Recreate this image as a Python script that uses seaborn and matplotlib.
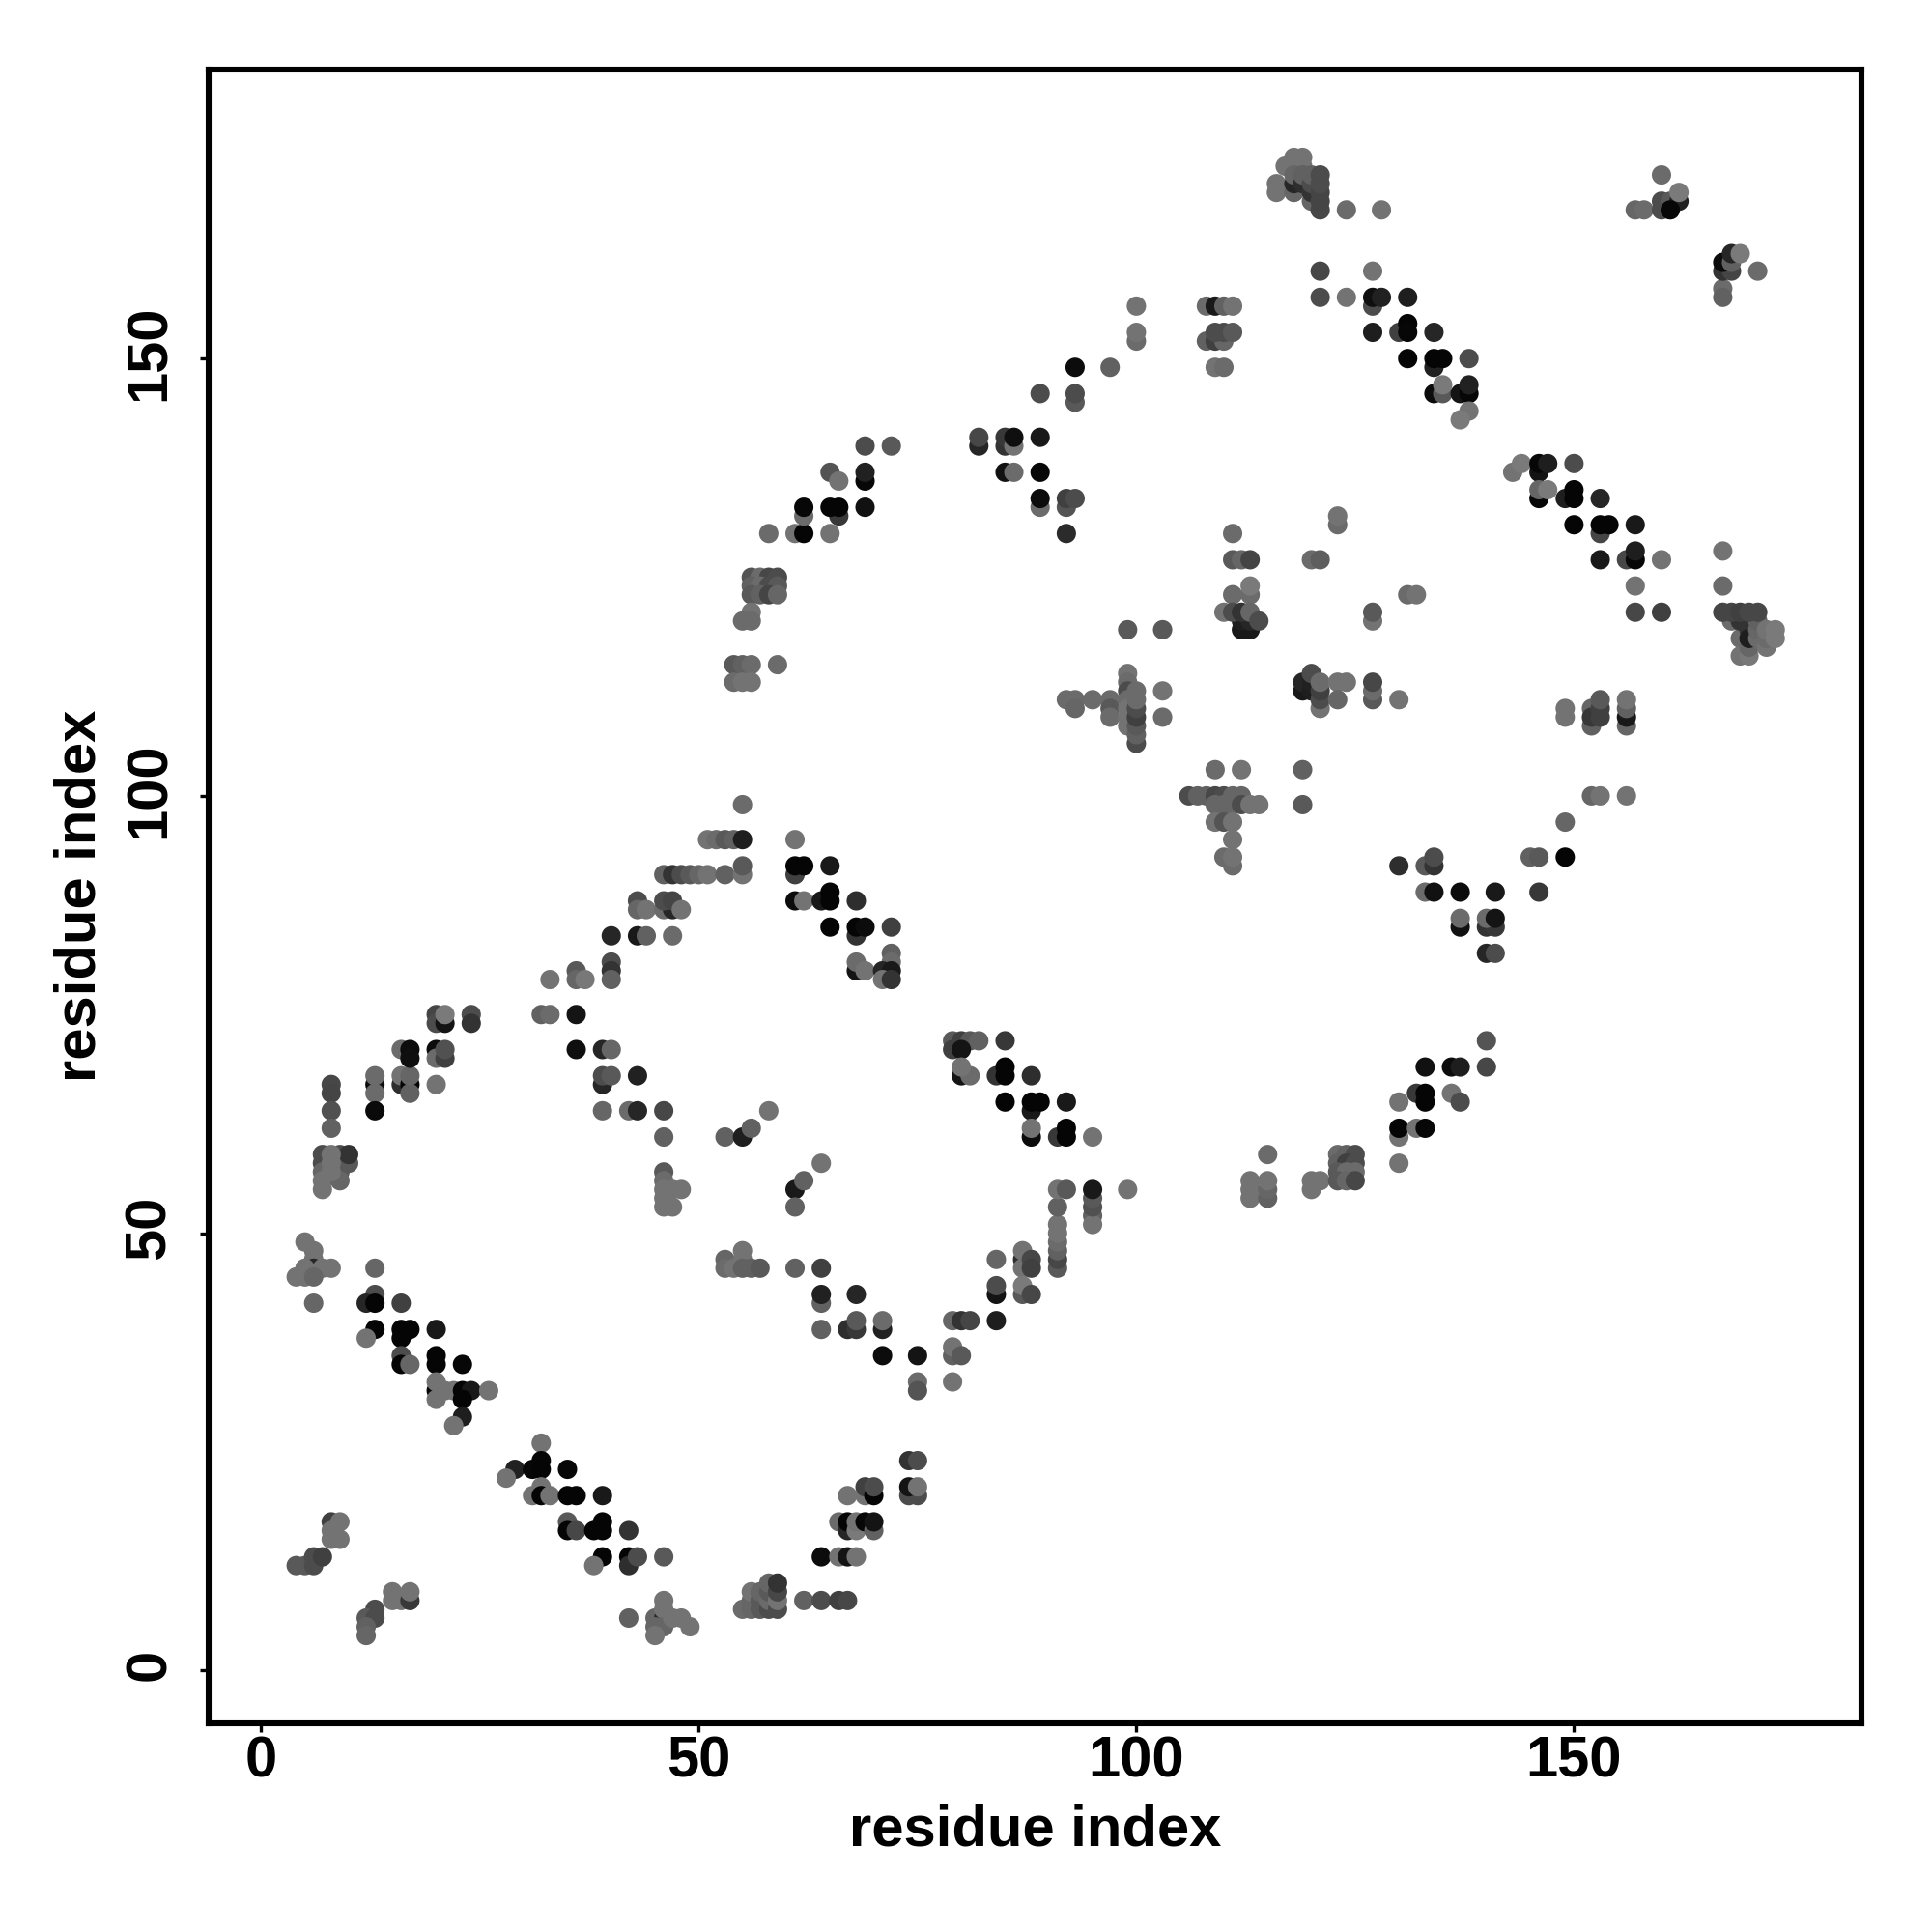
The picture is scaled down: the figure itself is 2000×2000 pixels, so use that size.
import matplotlib
matplotlib.use("Agg")
import matplotlib.pyplot as plt
import matplotlib.transforms as mtransforms
import numpy as np
import pandas as pd
import seaborn as sns

# (residue i, residue j, grey level)
band_low_left = [
 (8,17,.25),(9,17,.45),(8,16,.45),(8,15,.45),(9,15,.45),(4,12,.35),(5,12,.35),(6,12,.3),(6,13,.3),(7,13,.25),
 (13,7,.3),(12,6,.35),(13,6,.3),(12,5,.38),(12,4,.4),(15,9,.45),(15,8,.45),(16,8,.45),(17,8,.22),(17,9,.45),
 (42,6,.38),(45,6,.4),(46,6,.15),(46,8,.45),(46,7,.45),(45,5,.4),(46,5,.4),(45,4,.45),(47,6,.45),(48,6,.45),(49,5,.45),
]
band_helix_a = [
 (13,46,.4),(13,43,.3),(12,42,.15),(13,42,.02),(16,42,.25),(13,39,.02),(12,38,.45),(16,39,.02),(17,39,.02),(16,38,.02),(20,39,.1),
 (16,36,.3),(16,35,.02),(17,35,.4),(20,36,.02),(20,35,.02),(23,35,.03),(20,32,.02),(20,33,.45),(20,31,.45),(21,32,.45),(22,32,.45),
 (23,32,.02),(24,32,.1),(26,32,.45),(23,31,.02),(23,29,.12),(22,28,.45),
]
band_helix_b = [
 (32,26,.45),(32,24,.03),(29,23,.13),(31,23,.03),(32,23,.02),(35,23,.03),(28,22,.45),(32,21,.45),(31,20,.45),(32,20,.02),(33,20,.45),
 (35,20,.02),(36,20,.02),(39,20,.1),(35,17,.35),(35,16,.02),(36,16,.28),(38,16,.02),(39,17,.02),(39,16,.02),(42,16,.2),
 (39,13,.02),(38,12,.45),(42,13,.02),(42,12,.18),(43,13,.3),(46,13,.35),
]
band_start = [
 (5,49,.45),(6,48,.45),(6,47,.45),(6,46,.15),(5,46,.45),(7,46,.45),(8,46,.45),(4,45,.45),(5,45,.45),(6,45,.4),(6,42,.4),
 (8,67,.28),(8,66,.27),(8,64,.32),(8,62,.38),(7,59,.3),(7,58,.3),(7,57,.4),(7,56,.45),(7,55,.45),(9,59,.3),(9,58,.3),(9,57,.35),
 (9,56,.4),(10,58,.35),(10,59,.2),(8,59,.45),(8,58,.45),(8,57,.45),
 (13,67,.05),(13,66,.42),(13,68,.42),(13,64,.04),(16,67,.18),(16,68,.45),(17,67,.02),(17,66,.38),(17,68,.4),(20,67,.45),
 (16,71,.42),(17,71,.05),(17,70,.06),(20,71,.05),(20,70,.42),(21,70,.25),(21,71,.32),
 (20,75,.27),(20,74,.3),(21,74,.08),(21,75,.48),(24,75,.3),(24,74,.2),
]
band_upper_a = [
 (32,75,.38),(33,75,.42),(36,75,.08),(36,71,.06),(39,71,.15),(40,71,.4),(39,67,.15),(39,68,.3),(40,68,.35),(43,68,.13),
 (39,64,.4),(42,64,.42),(43,64,.15),(46,64,.28),(46,61,.38),(33,79,.45),(36,80,.35),(36,79,.4),(37,79,.47),(40,81,.3),(40,80,.2),(40,79,.38),
 (40,84,.15),(43,84,.1),(44,84,.38),(47,84,.42),(43,88,.3),(43,87,.4),(44,87,.45),(46,87,.42),(47,87,.15),(46,88,.3),(47,88,.27),(48,87,.45),
 (46,91,.38),(47,91,.2),(48,91,.3),(49,91,.35),(50,91,.4),(51,91,.45),(53,91,.38),(55,91,.45),(55,92,.35),
 (51,95,.45),(52,95,.42),(53,95,.35),(54,95,.38),(55,95,.12),(55,99,.42),(61,95,.45),
 (61,91,.25),(61,92,.02),(62,92,.02),(65,92,.1),(61,88,.05),(62,88,.45),(64,88,.1),(65,89,.02),(65,88,.02),(68,88,.18),
 (68,84,.2),(65,85,.02),(68,85,.02),(69,85,.05),(72,85,.25),(72,82,.38),(72,81,.42),(68,80,.08),(68,81,.42),(69,80,.45),(71,80,.15),(72,80,.1),(71,79,.45),(72,79,.2),
]
band_center = [
 (53,61,.38),(55,61,.12),(56,62,.38),(58,64,.45),(61,55,.1),(62,56,.38),(64,58,.45),(61,53,.38),
 (46,57,.35),(46,56,.42),(46,55,.45),(47,55,.45),(48,55,.45),(46,54,.45),(46,53,.45),(47,53,.45),
 (53,47,.4),(53,46,.42),(54,46,.45),(55,48,.45),(55,47,.45),(55,46,.38),(56,46,.38),(57,46,.35),(61,46,.38),(64,46,.25),
 (64,42,.38),(64,43,.13),(68,43,.15),(64,39,.38),(67,39,.18),(68,39,.22),(68,40,.35),(71,39,.13),(71,40,.42),
 (71,36,.05),(75,36,.08),(75,33,.42),(75,32,.33),(79,36,.38),(79,37,.45),(80,36,.35),(79,33,.45),
 (79,40,.4),(80,40,.2),(81,40,.27),(84,40,.12),(84,47,.4),(84,43,.08),(84,44,.3),
 (87,47,.18),(87,48,.45),(87,46,.45),(88,47,.28),(88,46,.25),(87,43,.35),(87,44,.48),(88,43,.28),
 (91,46,.35),(91,47,.28),(91,48,.38),(91,49,.42),(91,50,.45),(91,51,.45),(91,53,.38),(91,55,.45),(92,55,.35),(95,52,.38),(95,51,.45),(95,53,.32),(95,54,.35),(95,55,.1),(99,55,.45),
]
band_lower_mid = [
 (55,7,.42),(56,7,.4),(56,8,.4),(56,9,.45),(57,7,.35),(57,8,.35),(57,9,.4),(58,7,.3),(58,8,.42),(58,9,.35),(58,10,.4),(59,7,.3),(59,8,.45),(59,9,.28),(59,10,.2),
 (62,8,.38),(64,8,.3),(66,8,.25),(67,8,.28),(64,13,.05),(66,13,.45),(67,13,.08),(68,13,.45),(66,17,.42),(67,16,.15),(67,17,.02),(68,16,.48),(68,17,.45),
 (69,17,.03),(70,16,.38),(70,17,.08),(67,20,.45),(69,20,.45),(69,21,.25),(70,20,.02),(70,21,.3),(74,20,.3),(75,20,.3),(74,21,.08),(75,21,.45),(74,24,.2),(75,24,.3),
]
band_mid_a = [
 (79,72,.35),(80,72,.25),(81,72,.35),(82,72,.38),(85,72,.22),(79,71,.25),(80,71,.08),(80,68,.08),(81,68,.42),(80,69,.45),
 (84,68,.2),(85,68,.02),(85,69,.02),(88,68,.18),(85,65,.02),(88,64,.1),(88,65,.02),(89,65,.02),(92,65,.1),
 (88,61,.05),(88,62,.45),(91,61,.22),(92,62,.02),(92,61,.02),(95,61,.45),
 (113,56,.45),(113,55,.45),(113,54,.45),(115,59,.42),(115,54,.38),(115,55,.4),(115,56,.45),(120,55,.45),(120,56,.45),(121,56,.45),
 (123,59,.42),(124,59,.38),(125,59,.3),(123,58,.38),(124,58,.25),(125,58,.3),(123,57,.35),(124,57,.42),(125,57,.42),(123,56,.35),(124,56,.4),(125,56,.28),
 (130,58,.45),(130,61,.45),(130,62,.02),(132,62,.45),(133,62,.03),(130,65,.45),(132,66,.22),(133,65,.02),(133,66,.02),(136,66,.45),(137,65,.3),
 (133,69,.07),(136,69,.05),(137,69,.12),(140,69,.28),(140,72,.33),
]
band_mid_b = [
 (106,100,.3),(107,100,.38),(108,100,.38),(109,100,.28),(110,100,.3),(111,100,.4),(112,100,.4),(109,99,.4),(110,99,.4),(111,99,.4),(112,99,.3),(113,99,.45),(114,99,.45),
 (109,97,.45),(110,97,.33),(111,97,.45),(111,95,.45),(110,93,.42),(111,92,.42),(111,93,.45),(109,103,.42),(112,103,.45),(119,103,.38),(119,99,.35),
 (130,92,.18),(133,92,.35),(134,92,.2),(134,93,.3),(133,89,.42),(134,89,.07),(137,89,.05),(141,89,.1),(146,89,.22),
 (145,93,.38),(146,93,.35),(149,93,.02),(149,97,.4),(137,85,.07),(137,86,.42),(140,85,.2),(141,85,.22),(140,86,.42),(141,86,.08),(140,82,.15),(141,82,.3),
 (152,100,.4),(153,100,.45),(156,100,.45),
]
band_upper_b = [
 (58,130,.42),(61,130,.45),(62,130,.02),(65,130,.45),(62,132,.42),(62,133,.03),(66,132,.22),(65,133,.02),(66,133,.02),(69,133,.07),
 (65,137,.33),(66,136,.45),(69,136,.03),(69,137,.13),(69,140,.3),(72,140,.35),
 (56,125,.33),(57,125,.42),(58,125,.28),(59,125,.3),(56,124,.38),(57,124,.42),(58,124,.3),(59,124,.35),(56,123,.35),(57,123,.38),(58,123,.27),(59,123,.4),
 (56,121,.45),(55,120,.42),(56,120,.42),(54,115,.35),(55,115,.38),(56,115,.42),(59,115,.42),(54,113,.42),(55,113,.45),(56,113,.45),
 (82,140,.15),(82,141,.28),(85,140,.2),(85,141,.22),(86,140,.45),(86,141,.06),(89,141,.1),(85,137,.07),(86,137,.42),(89,137,.03),
 (89,133,.42),(89,134,.05),(92,133,.33),(92,134,.25),(93,134,.3),(92,130,.17),(89,146,.3),(93,145,.35),(93,146,.3),(93,149,.05),(97,149,.38),
 (100,152,.42),(100,153,.45),(100,156,.45),
 (108,152,.38),(109,152,.25),(110,152,.4),(109,153,.3),(110,153,.3),(111,153,.35),(108,156,.42),(109,156,.1),(110,156,.38),(111,156,.45),(109,149,.45),(110,149,.42),
]
band_core = [
 (92,111,.42),(93,111,.42),(93,110,.4),(95,111,.42),(97,111,.42),(97,110,.35),(97,109,.42),(103,112,.45),(103,109,.42),(99,119,.35),(103,119,.35),
 (99,114,.45),(99,113,.42),(99,112,.3),(99,111,.42),(99,110,.45),(99,109,.45),(99,108,.45),(100,106,.3),(100,107,.38),(100,108,.35),(100,109,.25),(100,110,.3),(100,111,.42),(100,112,.42),
 (111,130,.42),(111,127,.35),(112,127,.4),(113,127,.27),(113,123,.42),(113,124,.48),(111,123,.42),(112,119,.1),(113,119,.1),(112,120,.12),(113,120,.15),
 (110,121,.45),(111,121,.3),(112,121,.2),(113,121,.4),(114,120,.3),(120,127,.42),(121,127,.37),(123,131,.42),(123,132,.45),(127,120,.45),(127,121,.35),(131,123,.42),(132,123,.45),
 (119,112,.1),(119,113,.15),(120,112,.12),(120,113,.13),(120,114,.3),(121,110,.45),(121,111,.3),(121,112,.25),(121,113,.42),(123,113,.45),(124,113,.45),(123,111,.4),
 (127,111,.35),(127,112,.42),(127,113,.28),(130,111,.45),
 (149,110,.45),(149,109,.45),(152,108,.38),(152,110,.4),(152,109,.22),(153,109,.25),(153,110,.25),(153,111,.35),(156,108,.4),(156,109,.1),(156,110,.38),(156,111,.45),
]
band_top = [
 (118,173,.45),(119,173,.45),(117,172,.45),(118,172,.45),(119,172,.45),(116,170,.45),(116,169,.45),(118,169,.4),(118,170,.15),(118,171,.4),(119,170,.18),(119,171,.38),
 (120,168,.4),(120,169,.2),(120,170,.3),(120,171,.38),(121,167,.28),(121,168,.27),(121,169,.27),(121,170,.3),(121,171,.3),(124,167,.42),(128,167,.45),
 (121,160,.28),(127,160,.45),(121,157,.3),(124,157,.45),(127,156,.3),(127,157,.06),(128,157,.13),(131,157,.12),(127,153,.12),(130,153,.25),(131,154,.02),(131,153,.03),(134,153,.15),
 (134,149,.13),(131,150,.02),(134,150,.02),(135,150,.02),(138,150,.3),(134,146,.05),(135,146,.35),(135,147,.48),(137,146,.08),(138,146,.03),(138,147,.13),(138,144,.45),(137,143,.48),
 (157,167,.4),(158,167,.42),(160,167,.3),(160,168,.3),(161,168,.35),(162,168,.13),(161,167,.03),(162,169,.48),(160,171,.42),
 (167,158,.42),(167,157,.38),(167,160,.2),(168,160,.27),(167,161,.05),(168,161,.38),(168,162,.15),(169,162,.48),(171,160,.42),
]
band_right = [
 (143,137,.45),(144,138,.48),(146,137,.08),(146,138,.03),(147,138,.12),(150,138,.3),(146,134,.03),(146,135,.4),(147,135,.48),(149,134,.12),(150,134,.02),(150,135,.02),(153,134,.15),
 (153,130,.27),(150,131,.02),(153,131,.02),(154,131,.02),(157,131,.1),(153,127,.1),(156,127,.28),(157,127,.03),(157,128,.12),(160,127,.45),(167,128,.45),(157,124,.45),(167,124,.42),
 (157,121,.28),(160,121,.25),(168,120,.42),(169,118,.42),(169,116,.45),(170,116,.47),(170,117,.4),(169,120,.2),(170,120,.2),(170,119,.2),(170,118,.12),(171,118,.42),(171,119,.4),(171,120,.38),
 (167,121,.27),(168,121,.27),(169,121,.25),(170,121,.28),(171,121,.28),(172,117,.45),(172,118,.42),(172,119,.45),(173,118,.48),(173,119,.48),
]

groups = [band_low_left, band_helix_a, band_helix_b, band_start, band_upper_a, band_center, band_lower_mid,
          band_mid_a, band_mid_b, band_upper_b, band_core, band_top, band_right]
contacts = pd.DataFrame([row for g in groups for row in g], columns=["i", "j", "grey"])
axis_ticks = [0, 50, 100, 150]

sns.set_theme(style="white")
plt.rcParams["font.family"] = ["Liberation Sans", "DejaVu Sans"]
plt.rcParams["font.weight"] = "bold"

fig = plt.figure(figsize=(10, 10), dpi=200)
ax = fig.add_axes([216/2000, 1 - 1784/2000, (1927 - 216)/2000, (1784 - 71.5)/2000])
sns.scatterplot(data=contacts, x="i", y="j", hue="grey", palette="gray", hue_norm=(0, 1),
                s=52, linewidth=0, legend=False, ax=ax, zorder=3)
ax.set_xlim(-6.0, 182.85)
ax.set_ylim(-6.04, 183.1)
ax.set_xticks(axis_ticks)
ax.set_yticks(axis_ticks)
ax.tick_params(axis="both", length=3.2, width=1.2, color="black", labelsize=21.5, labelcolor="black", left=True, bottom=True)
ax.tick_params(axis="x", pad=1.3)
ax.tick_params(axis="y", pad=8.7)
lift = mtransforms.ScaledTranslation(0, 5.5/200, fig.dpi_scale_trans)
for lab in ax.get_yticklabels():
    lab.set_rotation(90)
    lab.set_va("center")
    lab.set_transform(lab.get_transform() + lift)
ax.set_xlabel("residue index", fontsize=21.5, fontweight="bold", color="black", labelpad=5.8)
ax.set_ylabel("residue index", fontsize=21.5, fontweight="bold", color="black", labelpad=6.4)
for s in ax.spines.values():
    s.set_visible(True)
    s.set_color("black")
    s.set_linewidth(2.2)
fig.savefig("out.png", dpi=200)
